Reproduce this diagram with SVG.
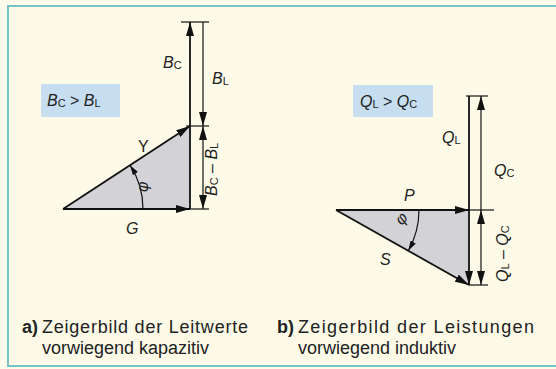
<svg xmlns="http://www.w3.org/2000/svg" width="556" height="369" viewBox="0 0 556 369">
<defs>
<marker id="ah" viewBox="0 0 14 8" refX="14" refY="4" markerWidth="14" markerHeight="8" markerUnits="userSpaceOnUse" orient="auto-start-reverse"><path d="M0,0 L14,4 L0,8 Z" fill="#111"/></marker>
<marker id="ahs" viewBox="0 0 10 6" refX="10" refY="3" markerWidth="10" markerHeight="6" markerUnits="userSpaceOnUse" orient="auto"><path d="M0,0 L10,3 L0,6 Z" fill="#111"/></marker>
<style>
.vec{stroke:#111;stroke-width:1.8;fill:none}
.dim{stroke:#111;stroke-width:1.2;fill:none}
.tri{fill:#d3d3d7;stroke:none}
.box{fill:#c7def1}
.lbl{font-family:"Liberation Sans","DejaVu Sans",sans-serif;font-style:italic;font-size:16px;fill:#222}
.up{font-style:normal}
.sub{font-size:11px;font-style:normal}
.cap{font-family:"Liberation Sans",Arial,sans-serif;font-size:18px;fill:#222}
</style>
</defs>
<rect x="0" y="0" width="556" height="369" fill="#fdfcec"/>
<rect x="8" y="6" width="560" height="360" fill="#fdfbe8" stroke="#74c4c4" stroke-width="2"/>

<g id="diagram-a">
<polygon class="tri" points="63,209 190,209 190,126"/>
<g id="connectors-a">
<line class="vec" x1="63" y1="209" x2="190" y2="209" marker-end="url(#ah)"/>
<line class="vec" x1="63" y1="209" x2="190" y2="126" marker-end="url(#ah)"/>
<line class="vec" x1="190" y1="209" x2="190" y2="22" marker-end="url(#ah)"/>
<line class="dim" x1="203" y1="22" x2="203" y2="126" marker-end="url(#ah)"/>
<line class="dim" x1="203" y1="126" x2="203" y2="209" marker-start="url(#ah)" marker-end="url(#ah)"/>
<line class="dim" x1="181" y1="22" x2="209" y2="22"/>
<line class="dim" x1="186" y1="126" x2="209" y2="126"/>
<line class="dim" x1="190" y1="209" x2="209" y2="209"/>
<path class="dim" d="M143,209 A80,80 0 0 0 130,165.2" marker-end="url(#ahs)"/>
</g>
<g id="box-a">
<rect class="box" x="41" y="84" width="79" height="33"/>
<text class="lbl" x="47" y="106">B<tspan class="sub" dy="1">C</tspan><tspan class="up" dy="-1"> &gt; </tspan>B<tspan class="sub" dy="1">L</tspan></text>
</g>
<text class="lbl" x="163" y="68">B<tspan class="sub" dy="1">C</tspan></text>
<text class="lbl" x="212" y="84">B<tspan class="sub" dy="1">L</tspan></text>
<text class="lbl" x="0" y="0" transform="translate(217,196) rotate(-90)">B<tspan class="sub" dy="1">C</tspan><tspan class="up" dy="-1"> – </tspan>B<tspan class="sub" dy="1">L</tspan></text>
<text class="lbl up" x="138" y="152">Y</text>
<text class="lbl" x="126" y="234">G</text>
<text class="lbl" x="0" y="0" transform="translate(148,192) rotate(-90)" font-size="14">φ</text>
</g>

<g id="diagram-b">
<polygon class="tri" points="336,210 469,210 469,285"/>
<g id="connectors-b">
<line class="vec" x1="336" y1="210" x2="469" y2="210" marker-end="url(#ah)"/>
<line class="vec" x1="336" y1="210" x2="469" y2="285" marker-end="url(#ah)"/>
<line class="vec" x1="469" y1="96" x2="469" y2="285" marker-end="url(#ah)"/>
<line class="dim" x1="481" y1="210" x2="481" y2="96" marker-end="url(#ah)"/>
<line class="dim" x1="481" y1="210" x2="481" y2="285" marker-start="url(#ah)" marker-end="url(#ah)"/>
<line class="dim" x1="466" y1="96" x2="488" y2="96"/>
<line class="dim" x1="469" y1="210" x2="494" y2="210"/>
<line class="dim" x1="469" y1="285" x2="488" y2="285"/>
<path class="dim" d="M419,210 A83,83 0 0 1 408.3,250.7" marker-end="url(#ahs)"/>
</g>
<g id="box-b">
<rect class="box" x="353" y="85" width="80" height="32"/>
<text class="lbl" x="360" y="107">Q<tspan class="sub" dy="1">L</tspan><tspan class="up" dy="-1"> &gt; </tspan>Q<tspan class="sub" dy="1">C</tspan></text>
</g>
<text class="lbl" x="442" y="143">Q<tspan class="sub" dy="1">L</tspan></text>
<text class="lbl" x="494" y="176">Q<tspan class="sub" dy="1">C</tspan></text>
<text class="lbl" x="0" y="0" transform="translate(508,282) rotate(-90)">Q<tspan class="sub" dy="1">L</tspan><tspan class="up" dy="-1"> – </tspan>Q<tspan class="sub" dy="1">C</tspan></text>
<text class="lbl" x="404" y="201">P</text>
<text class="lbl" x="380" y="265">S</text>
<text class="lbl" x="0" y="0" transform="translate(402,226) rotate(-50)" font-size="14">φ</text>
</g>

<g id="captions">
<text class="cap" x="22" y="333" font-weight="bold">a)</text>
<text class="cap" x="42" y="333" textLength="206" lengthAdjust="spacing">Zeigerbild der Leitwerte</text>
<text class="cap" x="42" y="354">vorwiegend kapazitiv</text>
<text class="cap" x="277" y="333" font-weight="bold">b)</text>
<text class="cap" x="298" y="333" textLength="236" lengthAdjust="spacing">Zeigerbild der Leistungen</text>
<text class="cap" x="298" y="354">vorwiegend induktiv</text>
</g>
</svg>
